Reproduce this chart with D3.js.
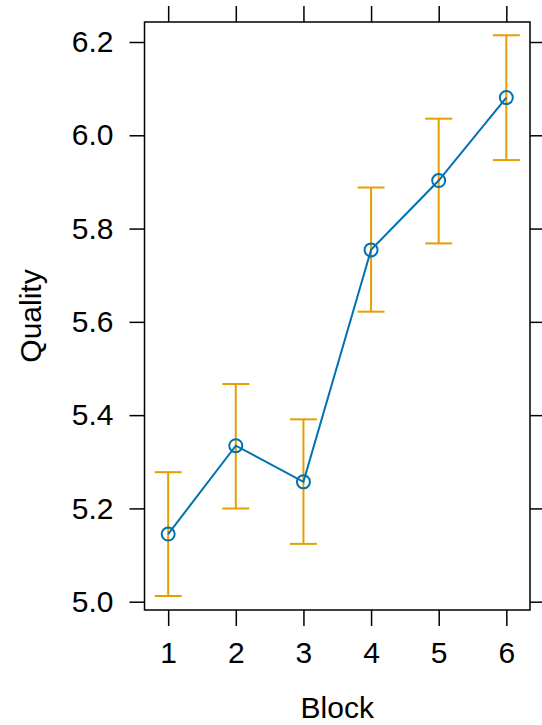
<!DOCTYPE html>
<html><head><meta charset="utf-8">
<script src="https://cdn.jsdelivr.net/npm/d3@7"></script>
<style>body{margin:0;background:#fff}svg{display:block}text{font-family:"Liberation Sans",Arial,sans-serif}</style>
</head><body>
<svg id="c" width="542" height="725"></svg>
<script>
const blocks = [1, 2, 3, 4, 5, 6];
const quality = [5.145, 5.3345, 5.257, 5.7543, 5.903, 6.0808];
const upper = [5.2777, 5.4667, 5.391, 5.888, 6.0356, 6.2144];
const lower = [5.0122, 5.1999, 5.124, 5.6218, 5.7682, 5.9469];
const yTicks = [5.0, 5.2, 5.4, 5.6, 5.8, 6.0, 6.2];
const xLabel = "Block", yLabel = "Quality";

const svg = d3.select("#c");
const L = 144.5, R = 530, T = 22, B = 610;
const x = d3.scaleLinear().domain([0.65, 6.35]).range([L, R]);
const y = d3.scaleLinear().domain([5.0, 6.2]).range([601.7, 42]);

const blue = "#0072B2", orange = "#E69F00";
const fs = 30;

// axes
const gB = svg.append("g").attr("transform", `translate(0,${B})`)
  .call(d3.axisBottom(x).tickValues(blocks).tickFormat(d3.format("d")).tickSize(16).tickPadding(16));
const gT = svg.append("g").attr("transform", `translate(0,${T})`)
  .call(d3.axisTop(x).tickValues(blocks).tickFormat("").tickSize(16));
const gL = svg.append("g").attr("transform", `translate(${L},0)`)
  .call(d3.axisLeft(y).tickValues(yTicks).tickFormat(d3.format(".1f")).tickSize(15).tickPadding(16));
const gR = svg.append("g").attr("transform", `translate(${R},0)`)
  .call(d3.axisRight(y).tickValues(yTicks).tickFormat("").tickSize(15));
[gB, gT, gL, gR].forEach(g => {
  g.select(".domain").remove();
  g.selectAll(".tick line").attr("stroke", "#000").attr("stroke-width", 1.5);
  g.selectAll(".tick text").attr("font-size", fs).attr("fill", "#000").style("font-family", '"Liberation Sans",Arial,sans-serif');
});

svg.append("rect").attr("x", L).attr("y", T).attr("width", R - L).attr("height", B - T)
  .attr("fill", "none").attr("stroke", "#000").attr("stroke-width", 1.5);

// error bars
const cap = 13.5;
const eb = svg.append("g").attr("stroke", orange).attr("stroke-width", 2).attr("fill", "none");
blocks.forEach((b, i) => {
  eb.append("line").attr("x1", x(b)).attr("x2", x(b)).attr("y1", y(upper[i])).attr("y2", y(lower[i]));
  eb.append("line").attr("x1", x(b) - cap).attr("x2", x(b) + cap).attr("y1", y(upper[i])).attr("y2", y(upper[i]));
  eb.append("line").attr("x1", x(b) - cap).attr("x2", x(b) + cap).attr("y1", y(lower[i])).attr("y2", y(lower[i]));
});

// line + points
svg.append("path").datum(blocks)
  .attr("d", d3.line().x(d => x(d)).y((d, i) => y(quality[i])))
  .attr("fill", "none").attr("stroke", blue).attr("stroke-width", 2);
svg.append("g").selectAll("circle").data(blocks).join("circle")
  .attr("cx", d => x(d)).attr("cy", (d, i) => y(quality[i])).attr("r", 6.5)
  .attr("fill", "none").attr("stroke", blue).attr("stroke-width", 2);

// labels
svg.append("text").attr("x", (L + R) / 2).attr("y", 718).attr("text-anchor", "middle")
  .attr("font-size", fs).text(xLabel);
svg.append("text").attr("transform", `translate(41,${(T + B) / 2}) rotate(-90)`)
  .attr("text-anchor", "middle").attr("font-size", fs).text(yLabel);
</script>
</body></html>
